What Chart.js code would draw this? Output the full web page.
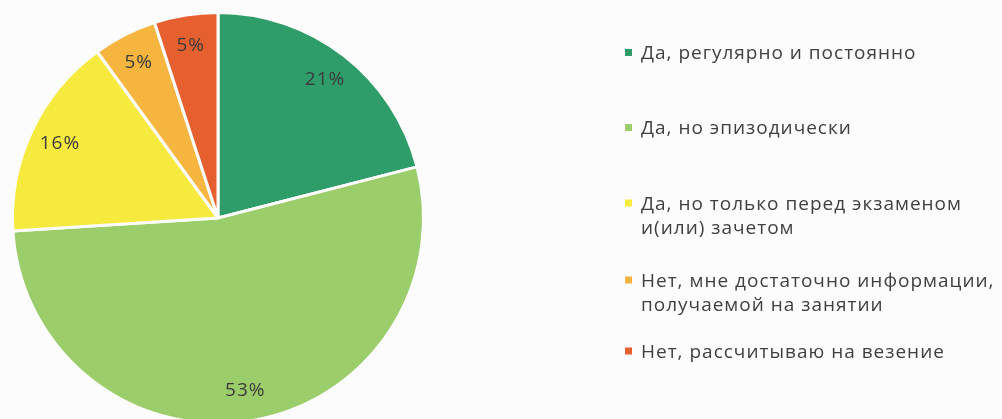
<!DOCTYPE html>
<html>
<head>
<meta charset="utf-8">
<script src="https://cdn.jsdelivr.net/npm/chart.js@4/dist/chart.umd.min.js"></script>
<style>
  html, body { margin: 0; padding: 0; background: #fcfcfc; overflow: hidden; }
  #wrap { position: relative; width: 1002px; height: 430px; }
</style>
</head>
<body>
<div id="wrap"><canvas id="pie-chart"></canvas></div>
<script>
const labels_pie = [
  ["Да, регулярно и постоянно"],
  ["Да, но эпизодически"],
  ["Да, но только перед экзаменом", "и(или) зачетом"],
  ["Нет, мне достаточно информации,", "получаемой на занятии"],
  ["Нет, рассчитываю на везение"]
];
const values_pie = [21, 53, 16, 5, 5];
const colors_pie = ["#2f9d69", "#9ccd6b", "#f7ea3f", "#f5b53f", "#e6602f"];

const FONT = "'Open Sans', 'Noto Sans', sans-serif";

// percent labels inside the slices
const sliceLabels = {
  id: "sliceLabels",
  afterDatasetsDraw(chart) {
    const ctx = chart.ctx;
    const meta = chart.getDatasetMeta(0);
    const total = values_pie.reduce((a, b) => a + b, 0);
    ctx.save();
    ctx.font = "19px " + FONT;
    ctx.letterSpacing = "1px";
    ctx.fillStyle = "#3b3b3b";
    ctx.textAlign = "center";
    ctx.textBaseline = "middle";
    meta.data.forEach((arc, i) => {
      const p = arc.getProps(["x", "y", "startAngle", "endAngle", "outerRadius"], true);
      const mid = (p.startAngle + p.endAngle) / 2;
      const r = p.outerRadius * 0.85;
      const pct = Math.round(values_pie[i] / total * 100) + "%";
      ctx.fillText(pct, p.x + Math.cos(mid) * r, p.y + Math.sin(mid) * r);
    });
    ctx.restore();
  }
};

// legend on the right, with wrapped lines
const sideLegend = {
  id: "sideLegend",
  afterDraw(chart) {
    const ctx = chart.ctx;
    const rows = [52.5, 127.5, 203, 280, 351];
    ctx.save();
    ctx.font = "19px " + FONT;
    ctx.letterSpacing = "1px";
    ctx.textBaseline = "alphabetic";
    labels_pie.forEach((lines, i) => {
      ctx.fillStyle = colors_pie[i];
      ctx.fillRect(625, rows[i] - 3.5, 7, 7);
      ctx.fillStyle = "#404040";
      lines.forEach((t, j) => ctx.fillText(t, 641, rows[i] + 6.5 + j * 24));
    });
    ctx.restore();
  }
};

const config_pie = {
  type: "pie",
  data: {
    labels: labels_pie.map(l => l.join(" ")),
    datasets: [{
      data: values_pie,
      backgroundColor: colors_pie,
      borderColor: "#fcfcfc",
      borderWidth: 3
    }]
  },
  options: {
    responsive: true,
    maintainAspectRatio: false,
    animation: false,
    layout: { padding: { left: 11, right: 577, top: 11, bottom: 5 } },
    plugins: {
      legend: { display: false },
      tooltip: { enabled: false }
    }
  },
  plugins: [sliceLabels, sideLegend]
};
var ctx_pie = document.getElementById("pie-chart").getContext("2d");
var myChart_pie = new Chart(ctx_pie, config_pie);
</script>
</body>
</html>
